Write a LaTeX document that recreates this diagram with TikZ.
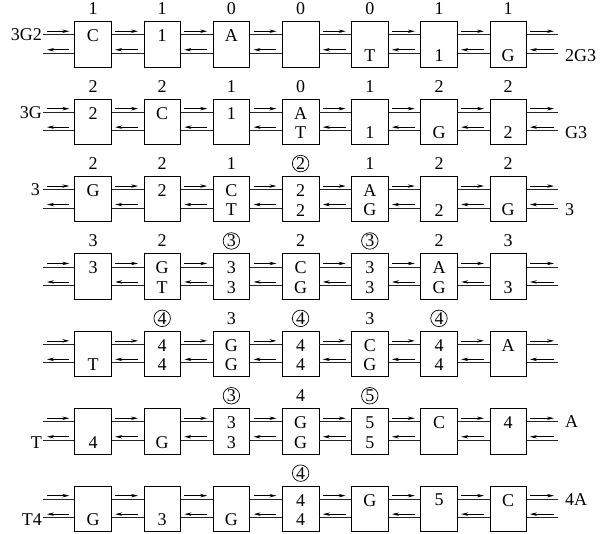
\documentclass[tikz,border=0pt]{standalone}
\usepackage{fontspec}
\setmainfont{Liberation Serif}
\usetikzlibrary{arrows.meta}
\begin{document}
\begin{tikzpicture}[x=1pt,y=-1pt,
  box/.style={draw, line width=0.8pt, minimum width=36.6pt, minimum height=45.5pt, inner sep=0pt},
  txt/.style={font=\fontsize{18}{20}\selectfont, inner sep=0pt},
  circ/.style={txt, draw, circle, line width=0.7pt, minimum size=16.5pt},
  link/.style={line width=0.9pt, black!85},
  arr/.style={line width=0.7pt, -{Stealth[length=7pt,width=3.4pt]}},
]
\useasboundingbox (0,0) rectangle (605,533);
\foreach \r/\data in {
 0/{1/C/{}/0, 1/1/{}/0, 0/A/{}/0, 0/{}/{}/0, 0/{}/T/0, 1/{}/1/0, 1/{}/G/0},
 1/{2/2/{}/0, 2/C/{}/0, 1/1/{}/0, 0/A/T/0, 1/{}/1/0, 2/{}/G/0, 2/{}/2/0},
 2/{2/G/{}/0, 2/2/{}/0, 1/C/T/0, 2/2/2/1, 1/A/G/0, 2/{}/2/0, 2/{}/G/0},
 3/{3/3/{}/0, 2/G/T/0, 3/3/3/1, 2/C/G/0, 3/3/3/1, 2/A/G/0, 3/{}/3/0},
 4/{{}/{}/T/0, 4/4/4/1, 3/G/G/0, 4/4/4/1, 3/C/G/0, 4/4/4/1, {}/A/{}/0},
 5/{{}/{}/4/0, {}/{}/G/0, 3/3/3/1, 4/G/G/0, 5/5/5/1, {}/C/{}/0, {}/4/{}/0},
 6/{{}/{}/G/0, {}/{}/3/0, {}/{}/G/0, 4/4/4/1, {}/G/{}/0, {}/5/{}/0, {}/C/{}/0}}
{
  \pgfmathsetmacro\ym{44.25+77.4*\r}
  \coordinate (lft-\r) at (43,\ym);
  \coordinate (rgt-\r) at (558,\ym);
  \foreach \lab/\up/\lo/\c [count=\i] in \data {
    \pgfmathsetmacro\xc{93+69.2*(\i-1)}
    \node[box] (b-\r-\i) at (\xc,\ym) {};
    \node[txt] (u-\r-\i) at ([yshift=8.5pt]b-\r-\i.center) {\up};
    \node[txt] (d-\r-\i) at ([yshift=-11pt]b-\r-\i.center) {\lo};
    \ifnum\c=1
      \node[circ] (l-\r-\i) at ([yshift=35.5pt]b-\r-\i.center) {\lab};
    \else
      \node[txt] (l-\r-\i) at ([yshift=35.5pt]b-\r-\i.center) {\lab};
    \fi
  }
}
\foreach \r in {0,...,6} {
  \foreach \i [evaluate=\i as \j using int(\i+1)] in {1,...,6} {
    \draw[link] ([yshift=9.5pt]b-\r-\i.east) -- ([yshift=9.5pt]b-\r-\j.west);
    \draw[link] ([yshift=-9pt]b-\r-\i.east) -- ([yshift=-9pt]b-\r-\j.west);
    \draw[arr] ([xshift=3.5pt,yshift=13pt]b-\r-\i.east) -- ([xshift=-5.5pt,yshift=13pt]b-\r-\j.west);
    \draw[arr] ([xshift=-5.5pt,yshift=-5.5pt]b-\r-\j.west) -- ([xshift=3.5pt,yshift=-5.5pt]b-\r-\i.east);
  }
  \draw[link] ([yshift=9.5pt]lft-\r) -- ([yshift=9.5pt]b-\r-1.west);
  \draw[link] ([yshift=-9pt]lft-\r) -- ([yshift=-9pt]b-\r-1.west);
  \draw[arr] ([xshift=4pt,yshift=13pt]lft-\r) -- ([xshift=-5pt,yshift=13pt]b-\r-1.west);
  \draw[arr] ([xshift=-5pt,yshift=-5.5pt]b-\r-1.west) -- ([xshift=4pt,yshift=-5.5pt]lft-\r);
  \draw[link] ([yshift=9.5pt]b-\r-7.east) -- ([yshift=9.5pt]rgt-\r);
  \draw[link] ([yshift=-9pt]b-\r-7.east) -- ([yshift=-9pt]rgt-\r);
  \draw[arr] ([xshift=3pt,yshift=13pt]b-\r-7.east) -- ([xshift=-4pt,yshift=13pt]rgt-\r);
  \draw[arr] ([xshift=-4pt,yshift=-5.5pt]rgt-\r) -- ([xshift=3pt,yshift=-5.5pt]b-\r-7.east);
}
% side labels
\node[txt, anchor=east] (sl-0) at ([xshift=-1pt,yshift=9.5pt]lft-0) {3G2};
\node[txt, anchor=west] (sr-0) at ([xshift=7pt,yshift=-11pt]rgt-0) {2G3};
\node[txt, anchor=east] (sl-1) at ([xshift=-1pt,yshift=9.5pt]lft-1) {3G};
\node[txt, anchor=west] (sr-1) at ([xshift=7pt,yshift=-11pt]rgt-1) {G3};
\node[txt, anchor=east] (sl-2) at ([xshift=-3pt,yshift=9.5pt]lft-2) {3};
\node[txt, anchor=west] (sr-2) at ([xshift=7pt,yshift=-11pt]rgt-2) {3};
\node[txt, anchor=east] (sl-5) at ([xshift=-1pt,yshift=-11pt]lft-5) {T};
\node[txt, anchor=west] (sr-5) at ([xshift=7pt,yshift=9.5pt]rgt-5) {A};
\node[txt, anchor=east] (sl-6) at ([xshift=-1pt,yshift=-11pt]lft-6) {T4};
\node[txt, anchor=west] (sr-6) at ([xshift=7pt,yshift=9.5pt]rgt-6) {4A};
\end{tikzpicture}
\end{document}
